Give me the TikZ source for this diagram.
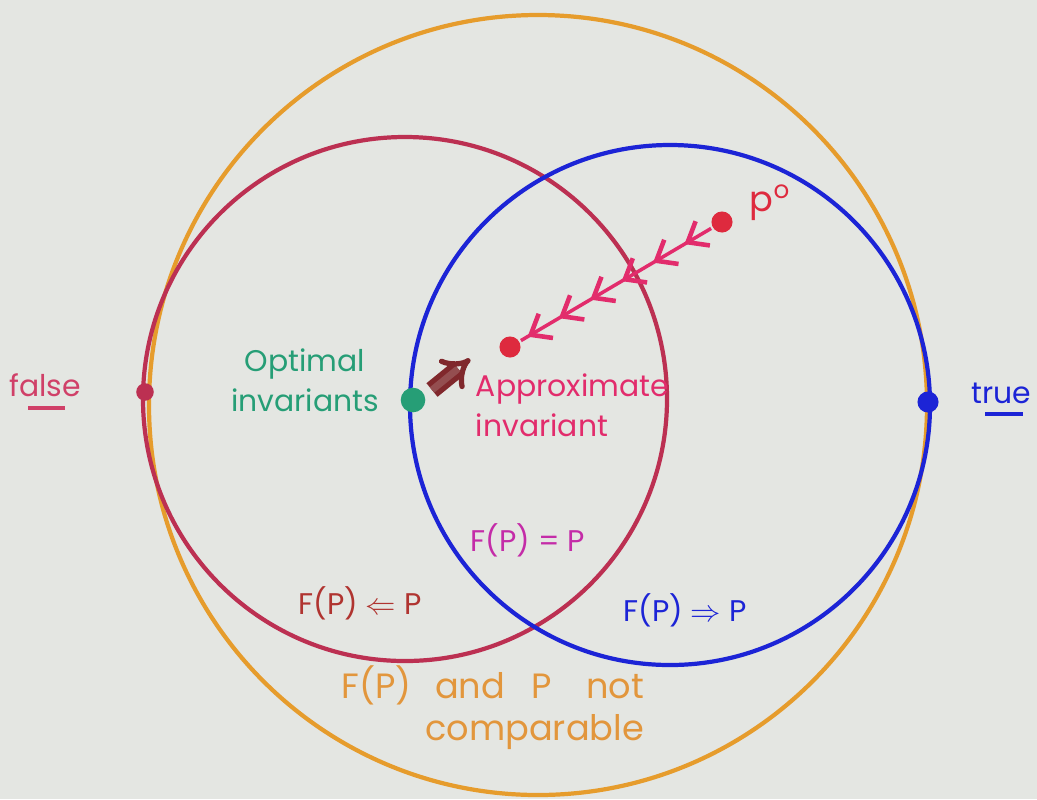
\documentclass[tikz,border=0pt]{standalone}
\usepackage{fontspec}
\setmainfont{Poppins}
\usetikzlibrary{math, arrows.meta, decorations.markings}
\definecolor{qbg}{RGB}{228,230,226}
\definecolor{qorange}{RGB}{230,156,44}
\definecolor{qred}{RGB}{188,48,82}
\definecolor{qdotred}{RGB}{222,42,62}
\definecolor{qblue}{RGB}{28,36,214}
\definecolor{qteal}{RGB}{38,158,118}
\definecolor{qpink}{RGB}{226,44,108}
\definecolor{qmag}{RGB}{196,44,168}
\definecolor{qbrown}{RGB}{128,40,44}
\definecolor{qfalse}{RGB}{208,64,104}
\definecolor{qimpl}{RGB}{176,52,48}
\definecolor{qnc}{RGB}{226,150,60}

\tikzset{
  dot/.style={circle, inner sep=0pt, minimum size=12pt},
  chevrons/.style={postaction={decorate}, decoration={markings,
    mark=between positions 0.14 and 0.97 step 0.165 with
    {\arrow{Straight Barb[length=10pt,width=16pt,line width=2.6pt]}}}}
}

\begin{document}
\begin{tikzpicture}[x=0.02cm, y=-0.02cm, line width=2.4pt,
  font=\fontsize{17}{23}\selectfont]

\tikzmath{
\W = 1037; \H = 799;
\Ox = 538; \Oy = 405; \Orx = 389; \Ory = 390;% orange circle
\Rx = 405; \Ry = 399; \Rr = 262;% red circle
\Bx = 670; \By = 405; \Br = 260;% blue circle
}

\fill[qbg] (0,0) rectangle (\W,\H);
\useasboundingbox (0,0) rectangle (\W,\H);

%circles:
\draw[qorange] (\Ox,\Oy) ellipse [x radius=\Orx, y radius=\Ory];
\draw[qred] (\Rx,\Ry) circle [radius=\Rr];
\draw[qblue] (\Bx,\By) circle [radius=\Br];

%points:
\node[dot, fill=qred, minimum size=10pt] (fdot) at (145,392) {};
\node[dot, fill=qteal, minimum size=14pt] (odot) at (413,400) {};
\node[dot, fill=qblue] (tdot) at (928,402) {};
\node[dot, fill=qdotred] (p0) at (722,222) {};
\node[dot, fill=qdotred] (pa) at (510,347) {};

\draw[qpink, line width=2pt, chevrons] (p0) -- (pa);

\coordinate (d0) at (432,390);
\coordinate (d1) at (470,359);
\draw[qbrown, line width=3pt, double=qbrown!80!qbg, double distance=4pt, -{Implies}] (d0) -- (d1);

%labels:
\node[qfalse] (false) at (45,385) {false};
\draw[qfalse] (28,408) -- (65,408);
\node[qblue] (true) at (1001,393) {true};
\draw[qblue] (985,414) -- (1023,414);
\node[qdotred, font=\fontsize{20}{23}\selectfont] (p0lab) at (770,203) {p\textsuperscript{o}};

\node[qteal, align=center] (opt) at (305,380) {Optimal\\invariants};
\node[qpink, align=left, anchor=west] (approx) at (468,405) {Approximate\\invariant};

\node[qmag] (fpeq) at (528,540) {F(P) = P};
\node[qimpl] (fpl) at (360,603) {F(P) $\Leftarrow$ P};
\node[qblue] (fpr) at (685,610) {F(P) $\Rightarrow$ P};
\node[qnc, align=right, anchor=east, font=\fontsize{20}{24}\selectfont] (nc) at (652,708)
  {F(P)\hspace{8pt} and\hspace{10pt} P\hspace{14pt} not\\comparable};

\end{tikzpicture}
\end{document}
